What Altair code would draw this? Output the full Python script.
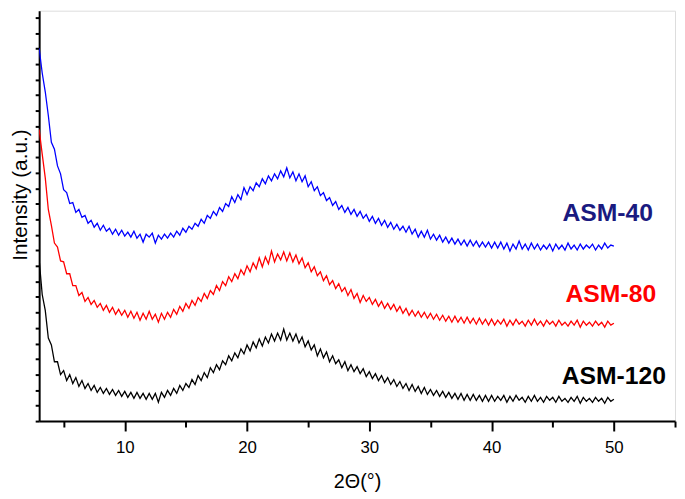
import altair as alt
import pandas as pd

# 2-theta sampling grid (degrees), 3.00 ... 50.00 in 0.25 steps
theta = [3 + 0.25 * i for i in range(189)]

asm40 = [377,352,333,309,282,275,258,250,234,231,
         220,221,211,214,206,208,200,203,196,200,
         193,198,192,195,189,194,188,193,187,191,
         186,192,185,189,181,189,186,190,180,188,
         184,189,185,190,186,192,188,195,191,197,
         194,200,197,204,200,208,205,212,208,216,
         212,220,217,227,221,229,224,236,229,237,
         233,241,237,245,240,248,243,250,245,253,
         247,256,246,252,243,250,242,248,237,242,
         233,237,228,231,223,226,218,222,214,218,
         211,216,209,214,207,212,205,209,202,207,
         200,205,198,203,196,201,194,199,193,197,
         191,197,189,194,186,192,186,193,184,189,
         183,188,181,186,180,185,179,184,178,183,
         177,183,177,182,176,181,176,181,175,181,
         175,181,174,180,172,179,174,182,174,179,
         173,180,174,179,173,178,174,179,172,
         179,174,178,173,180,174,178,173,179,174,
         178,175,179,173,178,174,180,175,178,177]

asm80 = [295,270,246,214,198,180,176,162,161,149,
         149,137,137,127,130,121,125,118,122,115,
         119,112,117,110,115,108,113,107,112,105,
         111,104,110,102,109,103,111,103,108,100,
         109,103,110,105,113,108,116,111,119,114,
         122,117,125,121,129,124,132,128,137,132,
         141,137,146,141,149,144,153,148,157,151,
         160,154,165,156,166,159,172,161,169,163,
         171,162,170,161,168,159,165,155,160,151,
         156,147,151,142,147,138,142,134,139,131,
         135,127,133,124,129,120,127,121,125,118,
         123,116,121,114,119,113,118,111,116,109,
         114,107,112,106,111,105,110,104,109,103,
         108,102,107,101,106,100,106,100,105,99,
         105,99,104,98,104,98,103,97,103,
         97,102,98,103,96,102,97,103,98,101,
         96,102,97,103,97,101,96,102,98,101,
         96,102,97,100,96,101,97,102,95,101,
         97,100,96,101,97,100,95,101,97,99]

asm120 = [163,128,112,84,77,60,60,47,51,41,
          47,38,44,35,41,33,38,31,36,29,
          34,28,33,27,32,26,31,25,30,24,
          29,23,29,23,28,22,28,22,28,19,
          29,24,31,26,33,28,36,31,38,34,
          42,37,46,41,49,44,54,49,57,52,
          61,57,66,61,69,64,73,68,77,71,
          80,74,83,76,85,79,88,81,89,82,
          93,82,89,81,88,79,85,75,81,72,
          77,66,73,64,70,60,66,58,62,54,
          60,51,57,50,55,48,53,45,50,43,
          48,41,46,39,44,37,42,35,40,33,
          38,31,37,30,35,28,34,27,32,26,
          31,25,30,24,29,23,28,22,28,21,
          27,21,27,21,26,20,26,20,26,
          20,25,21,26,19,25,20,26,21,24,
          19,25,20,26,20,24,19,25,21,24,
          19,25,20,23,19,24,20,25,18,24,
          20,23,19,24,20,23,18,24,20,22]

samples = ["ASM-40", "ASM-80", "ASM-120"]
line_colors = ["#0000ff", "#ff0000", "#000000"]

label_text = ["ASM-40", "ASM-80", "ASM-120"]
label_theta = [49.5, 49.75, 50.0]
label_int = [202, 120, 38]
label_colors = ["#1a1a80", "#ff0000", "#000000"]

rows = []
for name, vals in zip(samples, [asm40, asm80, asm120]):
    for t, v in zip(theta, vals):
        rows.append({"theta": t, "intensity": v, "sample": name})
df = pd.DataFrame(rows)

labels = pd.DataFrame({"theta": label_theta, "intensity": label_int,
                       "text": label_text, "color": label_colors})

FONT = "Liberation Sans"

x_scale = alt.Scale(domain=[3, 55], nice=False, zero=False)
y_scale = alt.Scale(domain=[0, 415], nice=False, zero=False)

x_axis = alt.Axis(
    values=[5, 10, 15, 20, 25, 30, 35, 40, 45, 50, 55],
    tickCount=20,
    labelExpr="datum.value % 10 === 0 ? datum.label : ''",
    tickSize={"condition": {"test": "datum.value % 10 === 0", "value": 10}, "value": 6},
    tickWidth=2, tickColor="black", domainWidth=2, domainColor="black",
    labelFont=FONT, labelFontSize=17, labelColor="black", labelPadding=9,
    title="2Θ(°)", titleFont=FONT, titleFontSize=20, titleFontWeight="normal",
    titleColor="black", titlePadding=16, grid=False,
)
y_axis = alt.Axis(
    values=[round(15.7 * i, 1) for i in range(27)],
    tickCount=40,
    labels=False, tickSize=4, tickWidth=2, tickColor="black",
    domainWidth=2, domainColor="black",
    title="Intensity (a.u.)", titleFont=FONT, titleFontSize=21,
    titleFontWeight="normal", titleColor="black",
    titleX=-12.5, titleY=186, titleAngle=-90, titleBaseline="alphabetic", titleAlign="center",
    grid=False,
)

lines = alt.Chart(df).mark_line(strokeWidth=1.3, clip=True).encode(
    x=alt.X("theta:Q", scale=x_scale, axis=x_axis),
    y=alt.Y("intensity:Q", scale=y_scale, axis=y_axis),
    color=alt.Color("sample:N", scale=alt.Scale(domain=samples, range=line_colors), legend=None),
    order="theta:Q",
)

texts = alt.Chart(labels).mark_text(
    font=FONT, fontWeight="bold", fontSize=25, align="center", baseline="alphabetic"
).encode(
    x=alt.X("theta:Q", scale=x_scale),
    y=alt.Y("intensity:Q", scale=y_scale),
    text="text:N",
    color=alt.Color("color:N", scale=None),
)

chart = alt.layer(lines, texts).properties(
    width=643, height=415,
    autosize=alt.AutoSizeParams(type="none"),
    padding={"left": 31.5, "top": 0, "right": 2, "bottom": 70},
).configure_view(strokeWidth=0).configure(background="white")

chart.save("out.html", embed_options={"renderer": "svg", "actions": False})
